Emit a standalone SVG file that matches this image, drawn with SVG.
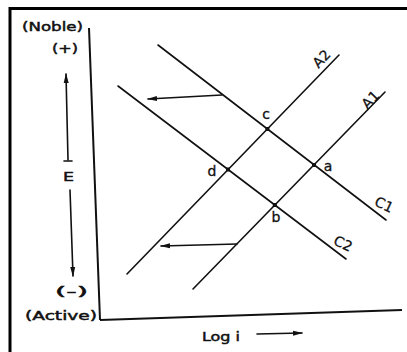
<svg xmlns="http://www.w3.org/2000/svg" width="407" height="352" viewBox="0 0 407 352">
<style>
.ln{stroke:#111;stroke-width:1.6;fill:none;stroke-linecap:round}
.ax{stroke:#111;stroke-width:2;fill:none}
.t{font-family:"DejaVu Sans","Liberation Sans",sans-serif;fill:#111;stroke:#111;stroke-width:0.5;font-size:13px}
.lb{font-family:"DejaVu Sans","Liberation Sans",sans-serif;fill:#111;stroke:#111;stroke-width:0.3;font-size:14px;text-anchor:middle}
.pt{fill:#111}
</style>
<defs>
<marker id="ah" markerWidth="10" markerHeight="6" refX="9" refY="3" orient="auto" markerUnits="userSpaceOnUse">
<path d="M0,0.5 L10,3 L0,5.5 Z" fill="#111"/>
</marker>
</defs>
<rect x="0" y="0" width="407" height="352" fill="#fff"/>
<g id="frame">
<line x1="10" y1="8.5" x2="407" y2="8.5" stroke="#000" stroke-width="3"/>
<line x1="10" y1="7" x2="10" y2="352" stroke="#000" stroke-width="3"/>
</g>
<g id="axes">
<line class="ax" x1="89" y1="28" x2="100" y2="320"/>
<line class="ax" x1="100" y1="320" x2="402" y2="310"/>
<text class="t" x="22" y="31" textLength="61" lengthAdjust="spacingAndGlyphs">(Noble)</text>
<text class="t" x="52" y="53" textLength="26" lengthAdjust="spacingAndGlyphs">(+)</text>
<text class="t" x="55" y="296" textLength="33" lengthAdjust="spacingAndGlyphs">(-)</text>
<text class="t" x="25" y="320" textLength="72" lengthAdjust="spacingAndGlyphs">(Active)</text>
<text class="t" x="63" y="181" font-size="17" textLength="11" lengthAdjust="spacingAndGlyphs">E</text>
<text class="t" x="202" y="341" font-size="14" textLength="38" lengthAdjust="spacingAndGlyphs">Log i</text>
</g>
<g id="connectors">
<line class="ln" x1="68" y1="160" x2="66" y2="74" marker-end="url(#ah)"/>
<line class="ln" x1="64" y1="161" x2="72" y2="161"/>
<line class="ln" x1="70" y1="190" x2="73" y2="276" marker-end="url(#ah)"/>
<line class="ln" x1="257" y1="334" x2="302" y2="333" marker-end="url(#ah)"/>
<line class="ln" x1="222" y1="95" x2="148" y2="99" marker-end="url(#ah)"/>
<line class="ln" x1="237" y1="244" x2="161" y2="246" marker-end="url(#ah)"/>
</g>
<g id="C1">
<line class="ln" x1="158" y1="45" x2="386" y2="220"/>
<text class="lb" transform="translate(382,209) rotate(25)">C1</text>
</g>
<g id="C2">
<line class="ln" x1="118" y1="86" x2="346" y2="259"/>
<text class="lb" transform="translate(341,248) rotate(25)">C2</text>
</g>
<g id="A2">
<line class="ln" x1="339" y1="55" x2="127" y2="274"/>
<text class="lb" transform="translate(325,62) rotate(-46)">A2</text>
</g>
<g id="A1">
<line class="ln" x1="385" y1="92" x2="193" y2="289"/>
<text class="lb" transform="translate(374,103) rotate(-46)">A1</text>
</g>
<g id="point-c">
<rect class="pt" x="265.4" y="127" width="4" height="4"/>
<text class="lb" x="266" y="119">c</text>
</g>
<g id="point-a">
<rect class="pt" x="312" y="163" width="4" height="4"/>
<text class="lb" x="328" y="171">a</text>
</g>
<g id="point-d">
<rect class="pt" x="226" y="167.5" width="4" height="4"/>
<text class="lb" x="212" y="176">d</text>
</g>
<g id="point-b">
<rect class="pt" x="272.8" y="203" width="4" height="4"/>
<text class="lb" x="276" y="222">b</text>
</g>
</svg>
